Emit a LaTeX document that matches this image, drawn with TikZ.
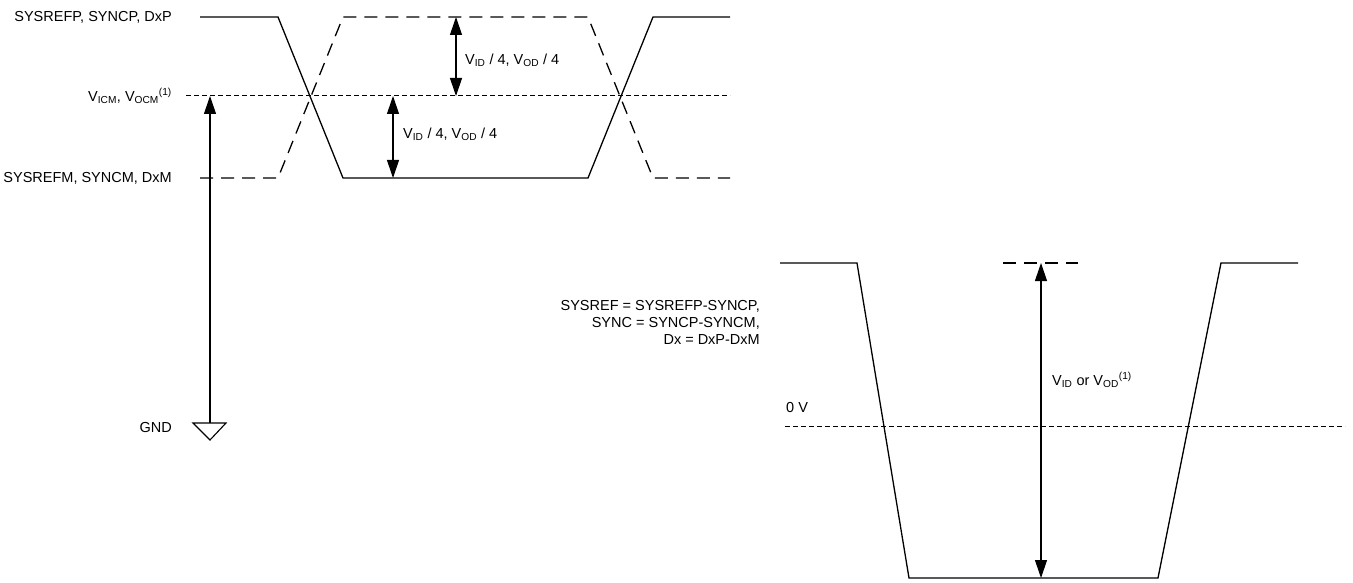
\documentclass[tikz,border=0pt]{standalone}
\usepackage{fontspec}
\setmainfont{Liberation Sans}
\usetikzlibrary{arrows.meta}

\begin{document}
\begin{tikzpicture}[x=1pt,y=-1pt,>={Triangle[length=18pt,width=12pt]},
                    font=\fontsize{14.5}{17}\selectfont]
  \tikzstyle{signal}=[line width=1.3pt]
  \tikzstyle{inverted}=[signal,dash pattern=on 13pt off 8pt]
  \tikzstyle{level}=[line width=1pt,dash pattern=on 5pt off 3pt]
  \tikzstyle{swing}=[<->,line width=1.1pt]
  \tikzstyle{sigtext}=[inner sep=0pt,anchor=east]
  \tikzstyle{valtext}=[inner sep=0pt,anchor=west]
  \useasboundingbox (0,0) rectangle (1353,583);

  % single-ended signals
  \coordinate (P0) at (200,17);  \coordinate (P1) at (278,17);
  \coordinate (P2) at (343,178); \coordinate (P3) at (588,178);
  \coordinate (P4) at (653,17);  \coordinate (P5) at (730,17);
  \coordinate (M0) at (200,178); \coordinate (M1) at (278,178);
  \coordinate (M2) at (343,17);  \coordinate (M3) at (588,17);
  \coordinate (M4) at (653,178); \coordinate (M5) at (730,178);
  \coordinate (CM0) at (186,96); \coordinate (CM1) at (730,96);

  \draw[signal]   (P0) -- (P1) -- (P2) -- (P3) -- (P4) -- (P5);
  \draw[inverted] (M0) -- (M1) -- (M2) -- (M3) -- (M4) -- (M5);
  \draw[level]    (CM0) -- (CM1);

  \node[sigtext] (pos)  at (172,17)  {SYSREFP, SYNCP, DxP};
  \node[sigtext] (vcm)  at (172,96)  {V\textsubscript{ICM}, V\textsubscript{OCM}\textsuperscript{(1)}};
  \node[sigtext] (neg)  at (172,178) {SYSREFM, SYNCM, DxM};
  \node[sigtext] (gnd)  at (172,428) {GND};

  \coordinate (G0) at (210,423); \coordinate (G1) at (210,96);
  \draw[->,line width=1.1pt] (G0) -- (G1);
  \draw[line width=1.1pt] (193,423) -- (226,423) -- (210,440) -- cycle; % ground

  \coordinate (A0) at (456,17);  \coordinate (A1) at (456,96);
  \coordinate (B0) at (393,96);  \coordinate (B1) at (393,178);
  \draw[swing] (A0) -- (A1);
  \draw[swing] (B0) -- (B1);
  \node[valtext] (quarterA) at (465,60)  {V\textsubscript{ID} / 4, V\textsubscript{OD} / 4};
  \node[valtext] (quarterB) at (403,134) {V\textsubscript{ID} / 4, V\textsubscript{OD} / 4};

  % differential signal
  \coordinate (D0) at (780,263);  \coordinate (D1) at (857,263);
  \coordinate (D2) at (909,578);  \coordinate (D3) at (1158,578);
  \coordinate (D4) at (1221,263); \coordinate (D5) at (1298,263);
  \coordinate (Z0) at (785,426);  \coordinate (Z1) at (1345,426);
  \coordinate (T0) at (1003,263); \coordinate (T1) at (1078,263);
  \coordinate (S0) at (1041,263); \coordinate (S1) at (1041,578);

  \draw[signal]   (D0) -- (D1) -- (D2) -- (D3) -- (D4) -- (D5);
  \draw[level]    (Z0) -- (Z1);
  \draw[inverted] (T0) -- (T1);
  \draw[swing]    (S0) -- (S1);

  \node[sigtext,align=right] (defs) at (760,322)
       {SYSREF = SYSREFP-SYNCP,\\ SYNC = SYNCP-SYNCM,\\ Dx = DxP-DxM};
  \node[valtext] (zero) at (786,408) {0 V};
  \node[valtext] (full) at (1052,380) {V\textsubscript{ID} or V\textsubscript{OD}\textsuperscript{(1)}};
\end{tikzpicture}
\end{document}
